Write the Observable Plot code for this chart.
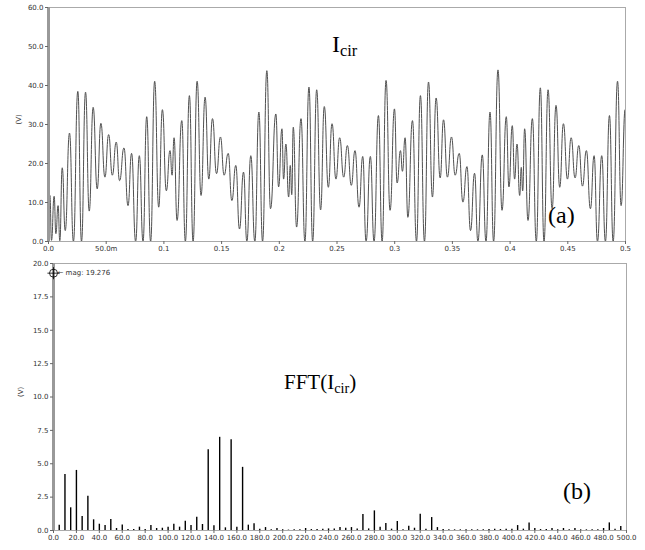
<!DOCTYPE html>
<html>
<head>
<meta charset="utf-8">
<script src="https://cdn.jsdelivr.net/npm/d3@7"></script>
<script src="https://cdn.jsdelivr.net/npm/@observablehq/plot@0.6"></script>
<style>
  html, body { margin: 0; padding: 0; background: #fff; }
  #wrap { position: relative; width: 645px; height: 550px; overflow: hidden; background: #fff; }
  #wrap svg { position: absolute; left: 0; }
  .ann { position: absolute; font-family: "Liberation Serif", "DejaVu Serif", serif; color: #000; line-height: 1; white-space: nowrap; }
  .ann sub { font-size: 0.68em; vertical-align: -0.25em; }
</style>
</head>
<body>
<div id="wrap"></div>
<script>
// ---- Panel (a): time-domain waveform I_cir ----
const timeS = [0, 0.0012, 0.0026, 0.0049, 0.0064, 0.0083, 0.0098, 0.0119, 0.0145, 0.0182, 0.0216, 0.0254, 0.0286, 0.0321, 0.0353, 0.0387, 0.0422, 0.0454, 0.0489, 0.0521, 0.0553, 0.0587, 0.0616, 0.0654, 0.0689, 0.0720, 0.0755, 0.0787, 0.0819, 0.0851, 0.0885, 0.0920, 0.0955, 0.0987,
  0.1021, 0.1053, 0.1071, 0.1088, 0.1114, 0.1155, 0.1186, 0.1221, 0.1253, 0.1288, 0.1322, 0.1357, 0.1389, 0.1421, 0.1456, 0.1490, 0.1522, 0.1557, 0.1589, 0.1623, 0.1655, 0.1690, 0.1719, 0.1753, 0.1788, 0.1823, 0.1855, 0.1892, 0.1924,
  0.1970, 0.1994, 0.2023, 0.2037, 0.2057, 0.2081, 0.2095, 0.2108, 0.2121, 0.2150, 0.2188, 0.2222, 0.2257, 0.2289, 0.2324, 0.2358, 0.2390, 0.2425, 0.2457, 0.2491, 0.2523, 0.2558, 0.2590, 0.2624, 0.2656, 0.2691, 0.2723, 0.2752, 0.2789, 0.2821, 0.2859, 0.2891, 0.2925, 0.2960, 0.2998,
  0.3021, 0.3050, 0.3067, 0.3090, 0.3114, 0.3154, 0.3189, 0.3223, 0.3258, 0.3293, 0.3327, 0.3359, 0.3394, 0.3423, 0.3457, 0.3492, 0.3524, 0.3559, 0.3591, 0.3626, 0.3657, 0.3692, 0.3721, 0.3759, 0.3791, 0.3826, 0.3857, 0.3895, 0.3930,
  0.3967, 0.3990, 0.4019, 0.4039, 0.4060, 0.4083, 0.4097, 0.4109, 0.4126, 0.4155, 0.4193, 0.4227, 0.4262, 0.4294, 0.4329, 0.4364, 0.4398, 0.4430, 0.4462, 0.4497, 0.4529, 0.4563, 0.4595, 0.4627, 0.4661, 0.4696, 0.4728, 0.4757, 0.4794, 0.4826, 0.4861, 0.4893, 0.4931, 0.4962, 0.4997, 0.5];
const currentV = [6, 11.8, 0.3, 11.6, 2, 9.2, 0.2, 18.9, 2.8, 27.8, 0, 38.5, 0, 38.3, 7.8, 34.4, 13.5, 30.3, 16.5, 27.4, 17, 25.5, 15.6, 24, 9.2, 22.6, 0, 22, 0, 32, 0, 41.1, 8.8, 33.8,
  13, 23.3, 17, 26.6, 5.4, 31, 0, 37.4, 0, 41.1, 11.8, 37, 16, 31.5, 17.4, 26.8, 17, 22.6, 10.5, 19.5, 3.2, 17.8, 0, 22, 0, 33.2, 0, 43.8, 8.4,
  32.7, 14, 28.9, 16, 25, 11.4, 19.5, 12, 29.3, 3.7, 31.5, 0, 39.6, 0, 38.9, 8.1, 34.6, 13.9, 30.2, 16, 26.6, 16.5, 24.6, 14.4, 23.3, 8.8, 21.8, 0, 21.8, 0, 32.3, 0, 41.3, 8, 34,
  15, 23.3, 18, 26.6, 6.2, 31, 0, 37.4, 0, 40.9, 11.4, 36.8, 16.3, 31.2, 16.5, 26.8, 17, 22.6, 10.1, 19.2, 2.8, 17.5, 0, 22.2, 0, 33.2, 0, 44, 8,
  32, 14, 29.7, 16, 25, 11.8, 19, 13, 28.9, 5.4, 31.5, 0, 39.4, 0, 38.9, 8.4, 34.9, 13.9, 30.2, 16, 26.6, 16.3, 24.6, 14.2, 23.3, 8.4, 22, 0, 22, 0, 32.3, 0, 41.1, 9.2, 33.8, 22];
const timeTicks = [0, 0.05, 0.1, 0.15, 0.2, 0.25, 0.3, 0.35, 0.4, 0.45, 0.5];
const timeTickLabels = ["0.0", "50.0m", "0.1", "0.15", "0.2", "0.25", "0.3", "0.35", "0.4", "0.45", "0.5"];
const voltTicks = [0, 10, 20, 30, 40, 50, 60];

// ---- Panel (b): FFT magnitude ----
const freqHz = [5,10,15,20,25,30,35,40,45,50,55,60,65,70,75,80,85,90,95,100,
  105,110,115,120,125,130,135,140,145,150,155,160,165,170,175,180,185,190,195,200,
  205,210,215,220,225,230,235,240,245,250,255,260,265,270,275,280,285,290,295,300,
  305,310,315,320,325,330,335,340,345,350,355,360,365,370,375,380,385,390,395,400,
  405,410,415,420,425,430,435,440,445,450,455,460,465,470,475,480,485,490,495];
const magV = [0.4,4.2,1.7,4.5,1.05,2.56,0.8,0.47,0.37,0.82,0.15,0.42,0.07,0.07,0.25,0.07,0.37,0.15,0.17,0.25,
  0.47,0.25,0.7,0.37,1.0,0.45,6.05,0.35,6.98,0.2,6.8,0.25,4.73,0.4,0.5,0.1,0.22,0.05,0.15,0.05,
  0.03,0.05,0.05,0.15,0.07,0.07,0.1,0.12,0.12,0.22,0.17,0.22,0.12,1.2,0.12,1.47,0.25,0.52,0.1,0.67,
  0.05,0.32,0.17,1.22,0.1,0.97,0.22,0.07,0.05,0.05,0.05,0.05,0.05,0.05,0.05,0.07,0.1,0.07,0.1,0.1,
  0.37,0.1,0.57,0.15,0.07,0.07,0.15,0.05,0.15,0.05,0.15,0.05,0.05,0.05,0.05,0.15,0.57,0.1,0.3];
const dcMag = 19.276;
const freqTicks = [0,20,40,60,80,100,120,140,160,180,200,220,240,260,280,300,320,340,360,380,400,420,440,460,480,500];
const magTicks = [0, 2.5, 5, 7.5, 10, 12.5, 15, 17.5, 20];

const wave = timeS.map((t, i) => ({t, v: currentV[i]}));
const fft = freqHz.map((f, i) => ({f, m: magV[i]}));
const marker = [{f: 0, m: dcMag}];

const axisStyle = {fontSize: "7px", fontFamily: "DejaVu Sans, sans-serif", color: "#333", background: "white"};

const plotA = Plot.plot({
  width: 645, height: 258,
  marginTop: 7, marginBottom: 17, marginLeft: 48, marginRight: 20,
  style: axisStyle,
  x: {type: "linear", domain: [0, 0.5]},
  y: {type: "linear", domain: [0, 60]},
  marks: [
    Plot.frame({stroke: "#aaa"}),
    Plot.line(wave, {x: "t", y: "v", stroke: "#505050", strokeWidth: 1, curve: "bump-x", clip: true}),
    Plot.ruleX([0], {y1: 0, y2: 60, stroke: "#999", strokeWidth: 3}),
    Plot.axisX({ticks: timeTicks, tickFormat: (d, i) => timeTickLabels[i], tickSize: 3, tickPadding: 2, label: null, stroke: "#666"}),
    Plot.axisY({ticks: voltTicks, tickFormat: d3.format(".1f"), tickSize: 3, tickPadding: 2, label: null, stroke: "#666"}),
    Plot.text(["(V)"], {frameAnchor: "left", dx: -30, rotate: -90, fontSize: 7, fill: "#333"})
  ]
});

const plotB = Plot.plot({
  width: 645, height: 292,
  marginTop: 5, marginBottom: 20, marginLeft: 53, marginRight: 19,
  style: axisStyle,
  x: {type: "linear", domain: [0, 500]},
  y: {type: "linear", domain: [0, 20]},
  marks: [
    Plot.frame({stroke: "#aaa"}),
    Plot.ruleX(fft, {x: "f", y1: 0, y2: "m", stroke: "#000", strokeWidth: 1.4}),
    Plot.ruleX([0], {y1: 0, y2: 20, stroke: "#999", strokeWidth: 3}),
    Plot.dot(marker, {x: "f", y: "m", r: 4, stroke: "#000", strokeWidth: 0.8}),
    Plot.dot(marker, {x: "f", y: "m", r: 4, symbol: "plus", stroke: "#000", strokeWidth: 0.8}),
    Plot.text(marker, {x: "f", y: "m", text: d => "\u2190 mag: " + d.m, textAnchor: "start", dx: 4, fontSize: 7, fill: "#333"}),
    Plot.axisX({ticks: freqTicks, tickFormat: d3.format(".1f"), tickSize: 3, tickPadding: 2, label: null, stroke: "#666"}),
    Plot.axisY({ticks: magTicks, tickFormat: d3.format(".1f"), tickSize: 3, tickPadding: 2, label: null, stroke: "#666"}),
    Plot.text(["(V)"], {frameAnchor: "left", dx: -33, rotate: -90, fontSize: 7, fill: "#333"})
  ]
});

const wrap = document.getElementById("wrap");
plotA.style.top = "0px";
plotB.style.top = "258px";
wrap.appendChild(plotA);
wrap.appendChild(plotB);

function ann(html, left, top, size) {
  const d = document.createElement("div");
  d.className = "ann";
  d.innerHTML = html;
  d.style.left = left + "px";
  d.style.top = top + "px";
  d.style.fontSize = size + "px";
  wrap.appendChild(d);
}
ann("I<sub>cir</sub>", 332, 32, 24);
ann("(a)", 548, 203, 24);
ann("FFT(I<sub>cir</sub>)", 284, 372, 21);
ann("(b)", 563, 479, 24);
</script>
</body>
</html>
